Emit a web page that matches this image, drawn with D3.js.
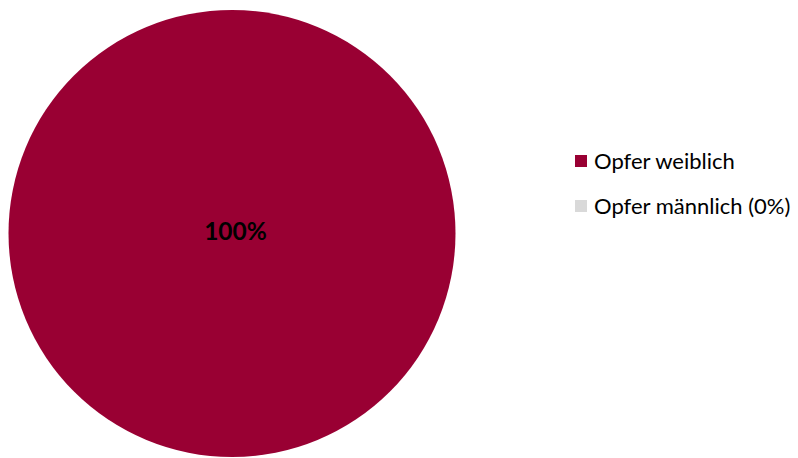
<!DOCTYPE html>
<html><head><meta charset="utf-8">
<script src="https://cdn.jsdelivr.net/npm/d3@7"></script>
<style>body{margin:0;background:#fff;}svg{display:block;font-family:Lato,"Open Sans",sans-serif;}</style>
</head><body>
<svg id="c" width="798" height="458"></svg>
<script>
const categories = ["Opfer weiblich", "Opfer männlich (0%)"];
const values = [100, 0];
const labels = ["100%", ""];
const colors = ["#990033", "#D9D9D9"];

const svg = d3.select("#c");
const cx = 232, cy = 233.5, r = 223.5;
const pie = d3.pie().sort(null).value(d => d)(values);
const arc = d3.arc().innerRadius(0).outerRadius(r);
const g = svg.append("g").attr("transform", `translate(${cx},${cy})`);
g.selectAll("text").data([]).enter();
g.selectAll("path").data(pie).enter().append("path")
  .attr("d", arc).attr("fill", (d,i) => colors[i]);
g.selectAll("text.lbl").data(pie.filter(d => d.value > 0)).enter().append("text")
  .attr("class", "lbl")
  .attr("x", 3.5).attr("y", 6)
  .attr("text-anchor", "middle").attr("font-size", 24.5).attr("font-weight", "bold")
  .attr("fill", "#000").text(d => labels[d.index]);

const leg = svg.append("g");
categories.forEach((c, i) => {
  const y = 161 + i * 45;
  leg.append("rect").attr("x", 575).attr("y", y - 6).attr("width", 12).attr("height", 12).attr("fill", colors[i]);
  leg.append("text").attr("x", 594).attr("y", y + 7.5).attr("font-size", 22).attr("fill", "#000").text(c);
});
</script>
</body></html>
